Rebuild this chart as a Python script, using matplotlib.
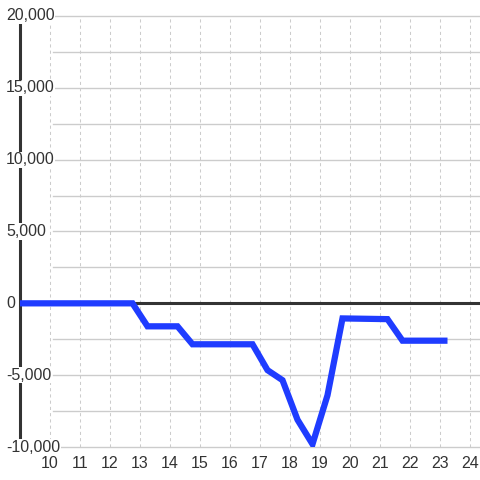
import numpy as np
import matplotlib
matplotlib.use("Agg")
from matplotlib import pyplot as plt

plt.rcParams['font.family'] = ['Liberation Sans', 'DejaVu Sans']

# data
x_vals = [9, 12.75, 13.25, 14.25, 14.75, 16.75, 17.25, 17.75, 18.25, 18.75, 19.25, 19.75, 21.25, 21.75, 23.25]
y_vals = [0, 0, -1600, -1600, -2850, -2850, -4650, -5350, -8100, -9800, -6400, -1050, -1100, -2600, -2600]
x_ticks = list(range(10, 25))
y_ticks = [20000, 15000, 10000, 5000, 0, -5000, -10000]
y_grid = list(range(-10000, 20001, 2500))

fig = plt.figure(figsize=(4.8, 4.8), dpi=100)
ax = fig.add_axes([20/480, 33/480, 460/480, 431/480])
ax.set_xlim(9, 9 + 460/30)
ax.set_ylim(-10000, 20000)

grid_c = '#cccccc'
for v in y_grid:
    if v == 0:
        continue
    ax.axhline(v, xmin=33/460, xmax=1, color=grid_c, lw=1.0, zorder=1, clip_on=False)
for v in x_ticks:
    ax.axvline(v, color=grid_c, lw=0.75, ls=(0, (3, 3)), zorder=1)
ax.axhline(0, color='#333333', lw=2.2, zorder=2)

ax.plot(x_vals, y_vals, color='#1f3cff', lw=4.5, solid_joinstyle='miter',
        solid_capstyle='butt', zorder=3)

for s in ['top', 'right', 'bottom']:
    ax.spines[s].set_visible(False)
ax.spines['left'].set_color('#333333')
ax.spines['left'].set_linewidth(2.2)
ax.spines['left'].set_zorder(2.5)

ax.set_yticks([])
ax.set_xticks(x_ticks)
ax.set_xticklabels([str(t) for t in x_ticks])
ax.tick_params(axis='x', length=0, pad=6.5, labelsize=11.5, labelcolor='#333333')

for v in y_ticks:
    ax.text(-14/460, v, '{:,}'.format(v), transform=ax.get_yaxis_transform(),
            ha='left', va='center', fontsize=11.5, color='#333333', zorder=5,
            clip_on=False,
            bbox=dict(facecolor='white', edgecolor='none', pad=0.5))

fig.savefig('out.png', dpi=100)
